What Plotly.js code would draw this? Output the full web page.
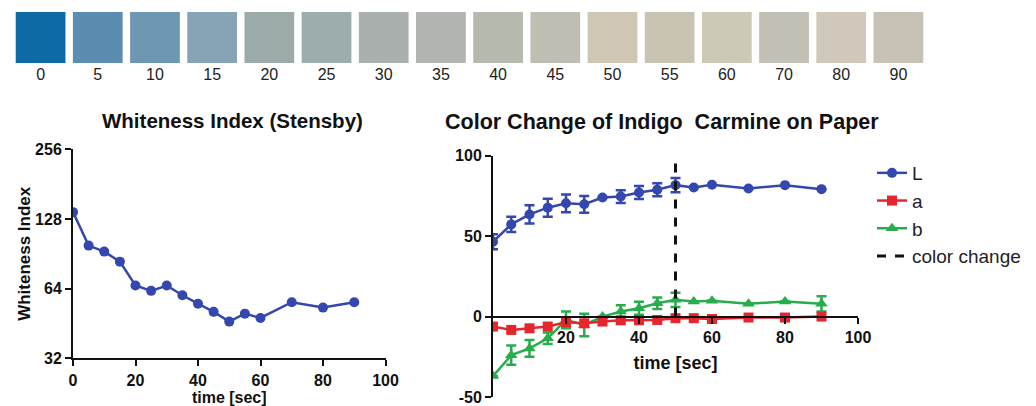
<!DOCTYPE html>
<html>
<head>
<meta charset="utf-8">
<script src="https://cdn.plot.ly/plotly-3.0.1.min.js"></script>
<style>html,body{margin:0;padding:0;background:#fff;}#chart{width:1036px;height:406px;}</style>
</head>
<body>
<div id="chart"></div>
<script>
// ---- data ----
const swatchLabels = ["0","5","10","15","20","25","30","35","40","45","50","55","60","70","80","90"];
const swatchColors = ["rgb(14,106,166)","rgb(91,141,176)","rgb(110,151,178)","rgb(134,164,181)",
  "rgb(156,170,170)","rgb(157,172,172)","rgb(170,176,173)","rgb(176,181,176)","rgb(182,185,174)",
  "rgb(192,190,178)","rgb(207,198,180)","rgb(201,195,180)","rgb(205,201,183)","rgb(194,191,180)",
  "rgb(208,201,187)","rgb(200,193,182)"];

const time = [0,5,10,15,20,25,30,35,40,45,50,55,60,70,80,90];
const whiteness = [137,98.2,92.5,83.7,66,62.6,66,59.9,55.1,50.8,46.1,49.9,47.8,55.9,53,55.9];

const L = [46.5,57.3,63.5,67.7,70.4,69.8,74,74.6,77.1,78.8,81.7,80.2,81.9,79.6,81.7,79.2];
const L_err = [4.7,4.7,5.7,5.6,5.5,5.2,null,4,4,4,4.4,null,null,null,null,null];
const a = [-6.2,-8.3,-7.3,-6.2,-3.5,-4.2,-3.1,-2.3,-2.3,-2.1,-1.0,-1.0,-1.5,-0.6,-0.6,0];
const b = [-37,-24,-19.8,-13.5,-2,-5.2,0,3.1,5.2,8.3,10.4,9.4,9.8,7.9,9.4,7.9];
const b_err = [null,6,5.2,3.6,5.2,7,null,4,4,3.6,4.4,null,null,null,null,4.7];
const colorChangeTime = [50,50];
const colorChangeY = [0,103];

const leftXTicks = [0,20,40,60,80,100];
const leftYTicks = [32,64,128,256];
const rightXTicks = [20,40,60,80,100];
const rightYTicks = [-50,0,50,100];
const rightYTickText = ["-50","0","50","100"];

// ---- layout helpers ----
const W = 1036, H = 406;
const fx = p => p / W;
const fy = p => 1 - p / H;
const FONT = "Liberation Sans, Arial, sans-serif";
const BLUE = "#3347ae", RED = "#e5262d", GREEN = "#27ad4b";

const y2dom = [fy(397), fy(155.7)];
const y2range = [-50, 100];
const x2pos = y2dom[0] + (0 - y2range[0]) / (y2range[1] - y2range[0]) * (y2dom[1] - y2dom[0]);

const tickFont = {family: FONT, size: 16, color: "#111", weight: "bold"};
const axisCommon = {showline: true, linewidth: 2, linecolor: "#111", ticks: "outside",
  ticklen: 6, tickwidth: 2, tickcolor: "#111", showgrid: false, zeroline: false,
  tickfont: tickFont, fixedrange: true};

const traces = [
  {type: "bar", x: swatchLabels, y: swatchLabels.map(() => 1), xaxis: "x3", yaxis: "y3",
   marker: {color: swatchColors}, width: 0.87, showlegend: false, hoverinfo: "x"},
  {type: "scatter", mode: "lines+markers", x: time, y: whiteness, xaxis: "x", yaxis: "y",
   line: {color: BLUE, width: 2.5}, marker: {symbol: "circle", size: 10, color: BLUE},
   showlegend: false, name: "Whiteness Index"},
  {type: "scatter", mode: "lines+markers", x: time, y: L, xaxis: "x2", yaxis: "y2", name: "L",
   legendgroup: "L", legendrank: 1,
   line: {color: BLUE, width: 2.5}, marker: {symbol: "circle", size: 10, color: BLUE},
   error_y: {type: "data", array: L_err, color: BLUE, thickness: 2.5, width: 5}},
  {type: "scatter", mode: "lines+markers", x: time, y: b, xaxis: "x2", yaxis: "y2", name: "b",
   legendgroup: "b", legendrank: 3,
   line: {color: GREEN, width: 2.5}, marker: {symbol: "triangle-up", size: 11, color: GREEN},
   error_y: {type: "data", array: b_err, color: GREEN, thickness: 2.5, width: 5}},
  {type: "scatter", mode: "lines+markers", x: time, y: a, xaxis: "x2", yaxis: "y2", name: "a",
   legendgroup: "a", legendrank: 2,
   line: {color: RED, width: 2.5}, marker: {symbol: "square", size: 10, color: RED}},
  {type: "scatter", mode: "lines", x: colorChangeTime, y: colorChangeY, xaxis: "x2", yaxis: "y2",
   name: "color change", legendgroup: "cc", legendrank: 4,
   line: {color: "#111", width: 3, dash: "dash"}}
];

const layout = {
  width: W, height: H, autosize: false,
  margin: {l: 0, r: 0, t: 0, b: 0},
  paper_bgcolor: "#fff", plot_bgcolor: "#fff",
  font: {family: FONT, color: "#111"},
  showlegend: true,
  legend: {x: fx(872), y: fy(154), xanchor: "left", yanchor: "top",
    font: {family: FONT, size: 19, color: "#222"}, tracegroupgap: 0,
    bgcolor: "rgba(0,0,0,0)", itemwidth: 30},
  xaxis: Object.assign({}, axisCommon, {domain: [fx(73), fx(385.5)], range: [0, 100],
    anchor: "y", tickvals: leftXTicks,
    title: {text: "time [sec]", font: {family: FONT, size: 16, weight: "bold"}, standoff: 8}}),
  yaxis: Object.assign({}, axisCommon, {domain: [fy(358.3), fy(149.3)], type: "log",
    range: [Math.log10(32), Math.log10(256)], anchor: "x", tickvals: leftYTicks,
    ticktext: leftYTicks.map(String),
    title: {text: "Whiteness Index", font: {family: FONT, size: 17, weight: "bold"}, standoff: 0}}),
  xaxis2: Object.assign({}, axisCommon, {domain: [fx(493), fx(858)], range: [0, 100],
    anchor: "free", position: x2pos, tickvals: rightXTicks,
    title: {text: "time [sec]", font: {family: FONT, size: 18, weight: "bold"}, standoff: 11}}),
  yaxis2: Object.assign({}, axisCommon, {domain: y2dom, range: y2range, anchor: "x2",
    tickvals: rightYTicks, ticktext: rightYTickText}),
  xaxis3: {domain: [fx(12), fx(927)], anchor: "y3", type: "category", showline: false,
    ticks: "", showgrid: false, zeroline: false, fixedrange: true,
    tickfont: {family: FONT, size: 16, color: "#222"}},
  yaxis3: {domain: [fy(63), fy(12)], range: [0, 1], anchor: "x3", visible: false, fixedrange: true},
  annotations: [
    {text: "Whiteness Index (Stensby)", xref: "paper", yref: "paper", x: fx(232), y: fy(120),
     xanchor: "center", yanchor: "middle", showarrow: false,
     font: {family: FONT, size: 20.5, weight: "bold", color: "#111"}},
    {text: "Color Change of Indigo\u00a0 Carmine on Paper", xref: "paper", yref: "paper",
     x: fx(662), y: fy(122), xanchor: "center", yanchor: "middle", showarrow: false,
     font: {family: FONT, size: 21.5, weight: "bold", color: "#111"}}
  ]
};

Plotly.newPlot("chart", traces, layout, {staticPlot: true, displayModeBar: false});
</script>
</body>
</html>
